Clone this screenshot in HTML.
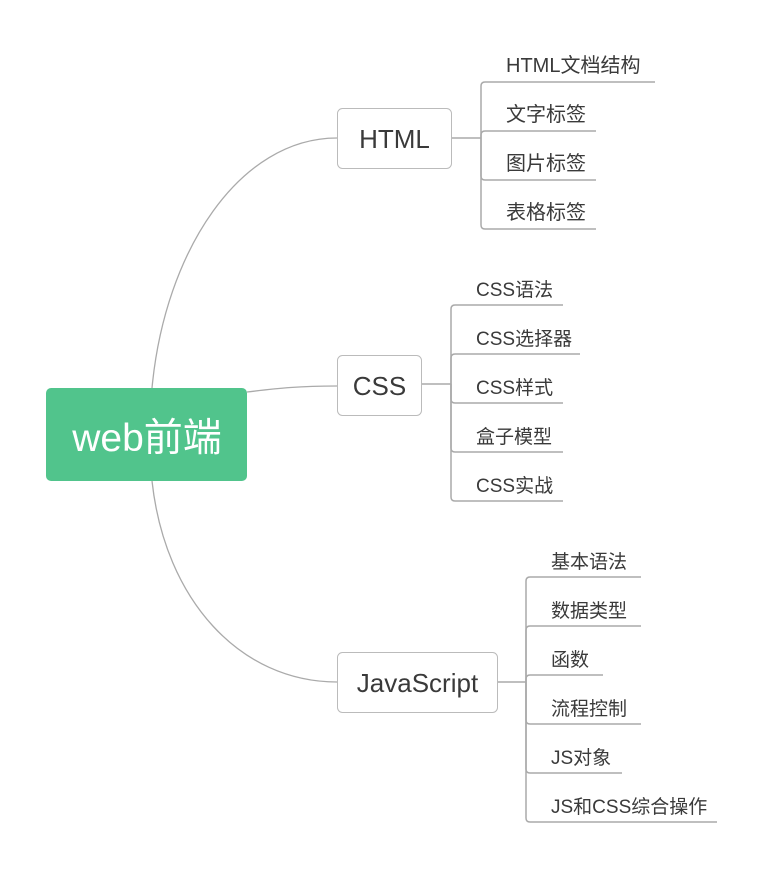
<!DOCTYPE html>
<html><head><meta charset="utf-8"><style>
html,body{margin:0;padding:0;background:#fff;}
svg{display:block}
text{font-family:"Liberation Sans","Noto Sans CJK SC",sans-serif;fill:#3a3a3a}
</style></head><body>
<svg width="765" height="872" viewBox="0 0 765 872" xmlns="http://www.w3.org/2000/svg">
<g fill="none" stroke="#aaa" stroke-width="1.3">
<path d="M152,388 C165,250 240,138 337,138"/>
<path d="M247,392 C280,388 300,386 337,386"/>
<path d="M152,481 C165,600 240,682 337,682"/>
</g>
<g fill="none" stroke="#aaa" stroke-width="1.5">
<path d="M451,138 H481"/>
<path d="M481,138 V86 Q481,82 485,82 H655"/>
<path d="M481,138 V135 Q481,131 485,131 H596"/>
<path d="M481,138 V176 Q481,180 485,180 H596"/>
<path d="M481,138 V225 Q481,229 485,229 H596"/>
<path d="M421,384 H451"/>
<path d="M451,384 V309 Q451,305 455,305 H563"/>
<path d="M451,384 V358 Q451,354 455,354 H580"/>
<path d="M451,384 V399 Q451,403 455,403 H563"/>
<path d="M451,384 V448 Q451,452 455,452 H563"/>
<path d="M451,384 V497 Q451,501 455,501 H563"/>
<path d="M497,682 H526"/>
<path d="M526,682 V581 Q526,577 530,577 H641"/>
<path d="M526,682 V630 Q526,626 530,626 H641"/>
<path d="M526,682 V679 Q526,675 530,675 H603"/>
<path d="M526,682 V720 Q526,724 530,724 H641"/>
<path d="M526,682 V769 Q526,773 530,773 H622"/>
<path d="M526,682 V818 Q526,822 530,822 H717"/>
</g>
<rect x="46" y="388" width="201" height="93" rx="5" fill="#51c48c"/>
<text x="147" y="451" font-size="39" text-anchor="middle" style="fill:#fff">web前端</text>
<g fill="#fff" stroke="#bbb" stroke-width="1">
<rect x="337.5" y="108.5" width="114" height="60" rx="5"/>
<rect x="337.5" y="355.5" width="84" height="60" rx="5"/>
<rect x="337.5" y="652.5" width="160" height="60" rx="5"/>
</g>
<g font-size="26" text-anchor="middle">
<text x="394.5" y="148">HTML</text>
<text x="379.5" y="395">CSS</text>
<text x="417.5" y="692">JavaScript</text>
</g>
<g font-size="20">
<text x="506" y="72">HTML文档结构</text>
<text x="506" y="121">文字标签</text>
<text x="506" y="170">图片标签</text>
<text x="506" y="219">表格标签</text>
</g>
<g font-size="19">
<text x="476" y="296">CSS语法</text>
<text x="476" y="345">CSS选择器</text>
<text x="476" y="394">CSS样式</text>
<text x="476" y="443">盒子模型</text>
<text x="476" y="492">CSS实战</text>
<text x="551" y="568">基本语法</text>
<text x="551" y="617">数据类型</text>
<text x="551" y="666">函数</text>
<text x="551" y="715">流程控制</text>
<text x="551" y="764">JS对象</text>
<text x="551" y="813">JS和CSS综合操作</text>
</g>
</svg>
</body></html>
